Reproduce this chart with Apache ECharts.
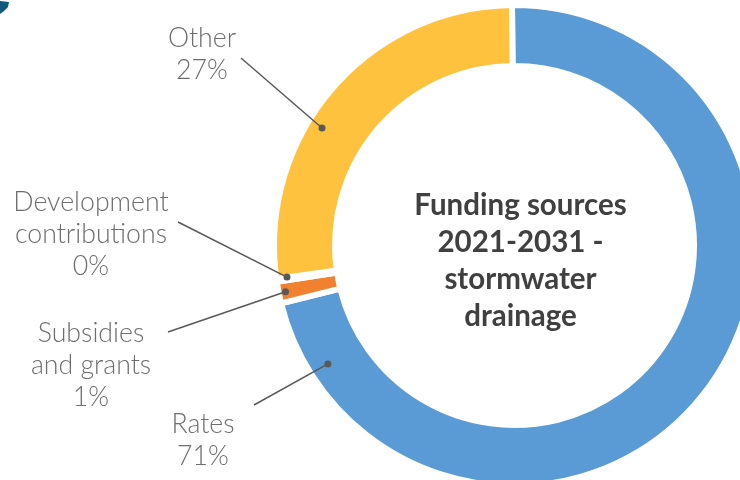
<!DOCTYPE html>
<html>
<head>
<meta charset="utf-8">
<style>html,body{margin:0;padding:0;background:#fff}#c{width:740px;height:480px}</style>
<script src="https://cdn.jsdelivr.net/npm/echarts@6/dist/echarts.min.js"></script>
</head>
<body>
<div id="c"></div>
<script>
// Funding split for the stormwater drainage activity, 2021-2031 (percent)
const categories = ['Rates', 'Subsidies\nand grants', 'Development\ncontributions', 'Other'];
const shares = [71.3, 1.45, 0.2, 27.05];
const colors = ['#5B9BD5', '#F0812F', '#A5A5A5', '#FFC23F'];
const heading = 'Funding sources\n2021-2031 -\nstormwater\ndrainage';

// Ring geometry and label placement (pixels); the white border eats 3px on each rim
const cx = 514.5, cy = 245.5, rOuter = 240.5, rInner = 179.5;
const labelCentres = [[203, 440], [91, 365], [91, 234], [202, 54]];
const lineEnds = [[254, 405], [168, 332], [178, 222], [241, 58]];
// Where each leader touches its slice: [radius, degrees clockwise from top]
const anchors = [[221, 237.6], [233.6, 258.6], [229.7, 262.1], [225.5, 301.4]];

const chart = echarts.init(document.getElementById('c'), null, { renderer: 'canvas' });
chart.setOption({
  animation: false,
  backgroundColor: '#fff',
  title: {
    text: heading,
    left: 515.5,
    top: 181.5,
    textAlign: 'center',
    textStyle: { fontFamily: 'Lato', fontWeight: 700, fontSize: 29.5, lineHeight: 37, color: '#404040' }
  },
  polar: { center: [cx, cy], radius: rOuter },
  radiusAxis: { show: false, min: 0, max: rOuter },
  angleAxis: { show: false, min: 0, max: 360, startAngle: 90 },
  graphic: [{
    type: 'polygon',
    shape: { points: [[0, 1], [9, 2], [8, 7], [4, 11], [0, 14]] },
    style: { fill: '#0F5A7A' }
  }],
  series: [{
    type: 'pie',
    center: [cx, cy],
    radius: [rInner, rOuter],
    startAngle: 90.6,
    minAngle: 0,
    avoidLabelOverlap: false,
    silent: true,
    itemStyle: { borderColor: '#fff', borderWidth: 6 },
    data: categories.map((name, i) => ({
      name,
      value: shares[i],
      itemStyle: { color: colors[i] }
    })),
    label: {
      show: true,
      position: 'outside',
      alignTo: 'none',
      formatter: p => p.name + '\n' + Math.round(p.value) + '%',
      fontFamily: 'Lato',
      fontWeight: 300,
      fontSize: 26.7,
      lineHeight: 32,
      color: '#6E6E6E',
      align: 'center',
      verticalAlign: 'middle'
    },
    labelLine: { show: false },
    labelLayout: p => ({
      x: labelCentres[p.dataIndex][0],
      y: labelCentres[p.dataIndex][1],
      align: 'center',
      verticalAlign: 'middle'
    })
  }, {
    // Leader lines with a round marker where they land on each slice
    type: 'custom',
    coordinateSystem: 'polar',
    silent: true,
    z: 5,
    clip: false,
    data: anchors,
    renderItem: (params, api) => {
      const p = api.coord([api.value(0), api.value(1)]);
      const end = lineEnds[params.dataIndex];
      return {
        type: 'group',
        children: [{
          type: 'line',
          shape: { x1: p[0], y1: p[1], x2: end[0], y2: end[1] },
          style: { stroke: '#595959', lineWidth: 1.5 }
        }, {
          type: 'circle',
          shape: { cx: p[0], cy: p[1], r: 3.5 },
          style: { fill: '#595959' }
        }]
      };
    }
  }]
});
</script>
</body>
</html>
